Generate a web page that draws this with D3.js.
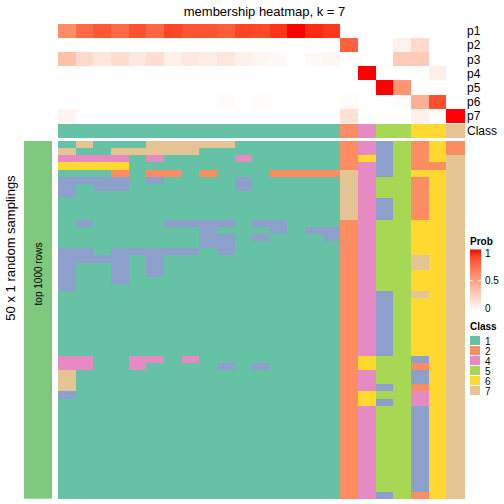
<!DOCTYPE html>
<html><head><meta charset="utf-8">
<script src="https://cdn.jsdelivr.net/npm/d3@7"></script>
<style>
body{margin:0;background:#fff}
svg{display:block;font-family:Arial,"Liberation Sans",Helvetica,sans-serif}
</style>
</head><body>
<svg id="chart" width="504" height="504"></svg>
<script>
// ---------- data ----------
const colClass = [1,1,1,1,1,1,1,1,1,1,1,1,1,1,1,1,2,4,5,5,6,6,7];
const probNames = ["p1","p2","p3","p4","p5","p6","p7"];
const p1 = [0.6,0.75,0.82,0.75,0.84,0.76,0.88,0.83,0.83,0.8,0.88,0.87,0.93,1.0,0.95,0.92,0,0,0,0,0,0,0];
const p2 = [0,0,0,0,0,0,0,0,0,0,0,0,0,0,0,0,0.78,0,0,0.07,0.2,0,0];
const p3 = [0.33,0.2,0.13,0.18,0.11,0.18,0.08,0.12,0.1,0.13,0.08,0.05,0.04,0,0.03,0.05,0,0,0,0.28,0.28,0,0];
const p4 = [0,0,0,0,0,0,0,0,0,0,0,0,0,0,0,0,0,1,0,0,0,0.08,0];
const p5 = [0,0,0,0,0,0,0,0,0,0,0,0,0,0,0,0,0,0,1,0.55,0,0,0];
const p6 = [0,0,0,0,0,0,0,0,0,0.02,0,0.02,0,0,0,0,0.02,0,0,0.02,0.42,0.85,0];
const p7 = [0.06,0,0,0,0,0,0,0,0,0,0,0,0,0,0,0,0.16,0,0,0,0.08,0,1];
// 50 random samplings x 23 samples (class per cell)
const samplings = [
"17111777771111112435262",
"71177777111111112435262",
"44441411114111112635267",
"66661111111111112435227",
"11121221211122227435667",
"33331311113111117455267",
"31331111113111117455267",
"31111111111111117455267",
"11111111111111117435267",
"11111111111111117435267",
"11111111111111117435267",
"13111133331331112455667",
"11111111311131332455667",
"11111111331311132455667",
"11111111331111112455667",
"33133333131111112455667",
"33331311111111112455767",
"31131311111111112455767",
"31131311111111112455667",
"31131111111111112455667",
"31111111111111112455667",
"11111111111111112435767",
"11111111111111112435667",
"11111111111111112435667",
"11111111111111112435667",
"11111111111111112435667",
"11111111111111112435667",
"11111111111111112435667",
"11111111111111112435667",
"11111111111111112435667",
"44114414111111112655367",
"44114111131311112655267",
"71111111111111112455367",
"71111111111111112455367",
"71111111111111112435267",
"31111111111111112655467",
"11111111111111112635467",
"11111111111111112455367",
"11111111111111112455367",
"11111111111111112455367",
"11111111111111112455367",
"11111111111111112455367",
"11111111111111112455367",
"11111111111111112455367",
"11111111111111112455367",
"11111111111111112455367",
"11111111111111112455367",
"11111111111111112455367",
"11111111111111112455367",
"11111111111111112435267"
];
const classKeys = ["1","2","3","4","5","6","7"];
const classPalette = ["#66C2A5","#FC8D62","#8DA0CB","#E78AC3","#A6D854","#FFD92F","#E5C494"];
const legendClasses = ["1","2","4","5","6","7"];
const probTicks = [0,0.5,1];
const titleText = "membership heatmap, k = 7";
const rowTitle = "50 x 1 random samplings";
const groupLabel = "top 1000 rows";

// ---------- drawing ----------
const svg = d3.select("#chart");
const probData = [p1,p2,p3,p4,p5,p6,p7];
const nCol = colClass.length;

const x = d3.scaleBand().domain(d3.range(nCol)).range([58,464]);
const yTop = d3.scaleBand().domain(probNames).range([24,122.7]);
const yMain = d3.scaleBand().domain(d3.range(samplings.length)).range([141,498.7]);
const probColor = d3.scaleLinear().domain([0,1]).range(["#ffffff","#ff0000"]).interpolate(d3.interpolateLab);
const classColor = d3.scaleOrdinal().domain(classKeys).range(classPalette);

// title
svg.append("text").attr("x",264.5).attr("y",16).attr("text-anchor","middle")
  .attr("font-size",13).text(titleText);

// probability heatmap
const gTop = svg.append("g").attr("shape-rendering","crispEdges");
probNames.forEach((name,ri)=>{
  gTop.selectAll(null).data(probData[ri]).enter().append("rect")
    .attr("x",(d,i)=>x(i)).attr("y",yTop(name))
    .attr("width",x.bandwidth()+0.5).attr("height",yTop.bandwidth()+0.5)
    .attr("fill",d=>probColor(d));
});
// class annotation row
gTop.selectAll(null).data(colClass).enter().append("rect")
  .attr("x",(d,i)=>x(i)).attr("y",124).attr("width",x.bandwidth()+0.5).attr("height",13.7)
  .attr("fill",d=>classColor(String(d)));

// right labels
const labY = probNames.map(n=>yTop(n)+yTop.bandwidth()/2).concat([130.85]);
svg.selectAll(null).data(probNames.concat(["Class"])).enter().append("text")
  .attr("x",467).attr("y",(d,i)=>labY[i]).attr("dy","0.36em")
  .attr("font-size",12).text(d=>d);

// main sampling heatmap
const gMain = svg.append("g").attr("shape-rendering","crispEdges");
samplings.forEach((row,ri)=>{
  gMain.selectAll(null).data(row.split("")).enter().append("rect")
    .attr("x",(d,i)=>x(i)).attr("y",yMain(ri))
    .attr("width",x.bandwidth()+0.5).attr("height",yMain.bandwidth()+0.5)
    .attr("fill",d=>classColor(d));
});

// left annotation
svg.append("rect").attr("x",24).attr("y",141).attr("width",28).attr("height",357.7)
  .attr("fill","#7FC97F");
svg.append("text").attr("transform","translate(42,274) rotate(-90)")
  .attr("text-anchor","middle").attr("font-size",10).text(groupLabel);
svg.append("text").attr("transform","translate(15,248) rotate(-90)")
  .attr("text-anchor","middle").attr("font-size",13).text(rowTitle);

// Prob legend
const defs = svg.append("defs");
const grad = defs.append("linearGradient").attr("id","pg").attr("x1",0).attr("x2",0).attr("y1",1).attr("y2",0);
d3.range(0,1.0001,0.1).forEach(t=>{
  grad.append("stop").attr("offset",t).attr("stop-color",probColor(t));
});
svg.append("text").attr("x",470).attr("y",245).attr("font-size",10).attr("font-weight","bold").text("Prob");
svg.append("rect").attr("x",470).attr("y",249.5).attr("width",11).attr("height",61.5).attr("fill","url(#pg)");
const legY = d3.scaleLinear().domain([0,1]).range([308,253.5]);
const axisG = svg.append("g").attr("transform","translate(481,0)")
  .call(d3.axisRight(legY).tickValues(probTicks).tickSize(0).tickPadding(4).tickFormat(d3.format("~g")));
axisG.select(".domain").remove();
axisG.selectAll("text").attr("font-size",10).attr("font-family","Arial,'Liberation Sans',sans-serif").attr("fill","#000");
// white tick marks on bar
svg.selectAll(null).data(probTicks.filter(t=>t>0&&t<1)).enter().append("g").each(function(t){
  const g=d3.select(this);
  g.append("line").attr("x1",470).attr("x2",473).attr("y1",legY(t)).attr("y2",legY(t)).attr("stroke","#fff");
  g.append("line").attr("x1",478).attr("x2",481).attr("y1",legY(t)).attr("y2",legY(t)).attr("stroke","#fff");
});

// Class legend
svg.append("text").attr("x",470).attr("y",330).attr("font-size",10).attr("font-weight","bold").text("Class");
const legItem = d3.scaleBand().domain(legendClasses).range([336,396]);
svg.selectAll(null).data(legendClasses).enter().append("rect")
  .attr("x",470).attr("y",d=>legItem(d)).attr("width",10).attr("height",legItem.bandwidth()-1)
  .attr("fill",d=>classColor(d));
svg.selectAll(null).data(legendClasses).enter().append("text")
  .attr("x",485).attr("y",d=>legItem(d)+legItem.bandwidth()/2).attr("dy","0.36em")
  .attr("font-size",10).text(d=>d);
</script>
</body></html>
